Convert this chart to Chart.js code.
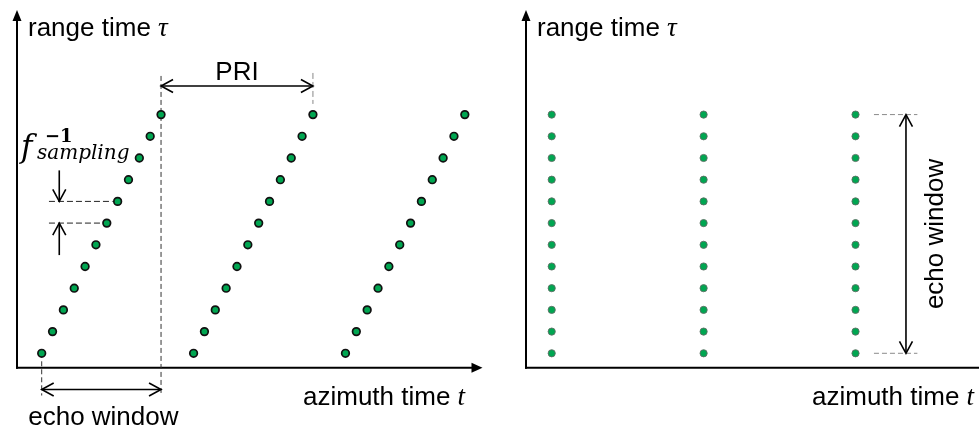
<!DOCTYPE html>
<html>
<head>
<meta charset="utf-8">
<script src="https://cdn.jsdelivr.net/npm/chart.js@4.4.1/dist/chart.umd.min.js"></script>
<style>
  html, body { margin: 0; padding: 0; background: #ffffff; }
  #wrap { position: relative; width: 979px; height: 427px; overflow: hidden; background: #ffffff; }
  canvas { position: absolute; top: 0; }
  #left { left: 0; }
  #right { left: 505px; }
</style>
</head>
<body>
<div id="wrap">
  <canvas id="left" width="505" height="427"></canvas>
  <canvas id="right" width="474" height="427"></canvas>
</div>
<script>
// Azimuth time of every recorded sample, in units of one range-sample step
const pulse1Azimuth = [0, 1, 2, 3, 4, 5, 6, 7, 8, 9, 10, 11];
const pulse2Azimuth = [14, 15, 16, 17, 18, 19, 20, 21, 22, 23, 24, 25];
const pulse3Azimuth = [28, 29, 30, 31, 32, 33, 34, 35, 36, 37, 38, 39];
// Range-sample index inside each echo window
const rangeSamples = [0, 1, 2, 3, 4, 5, 6, 7, 8, 9, 10, 11];
// After reordering, all samples of one pulse share a single azimuth time
const stackedAzimuth = [0, 14, 28];

// Text
const rangeAxisText = 'range time ';
const rangeAxisSymbol = '\u03C4';
const azimuthAxisText = 'azimuth time ';
const azimuthAxisSymbol = 't';
const priText = 'PRI';
const echoWindowText = 'echo window';
const samplingBase = 'f';
const samplingSub = 'sampling';
const samplingSup = '\u22121';

// Annotation placement (data units)
const PRI_LEVEL = 12.32;
const ECHO_LEVEL = -1.67;
const SAMPLE_MARK = 7;          // the two marked neighbouring samples: 7 and 6
const SAMPLE_ARROW_T = 1.62;
const SAMPLE_DASH_START_T = 0.67;
const RIGHT_ECHO_T = 32.65;
const RIGHT_DASH_T = [29.7, 33.7];
const RIGHT_LABEL_T = 36.05;

const SANS = '"Liberation Sans", Arial, sans-serif';
const SERIF_IT = 'italic 27px "Liberation Serif", "Times New Roman", serif';
const GREEN = '#00a651';

function seg(ctx, x1, y1, x2, y2, opt) {
  ctx.save();
  ctx.strokeStyle = opt.color || '#000';
  ctx.lineWidth = opt.width || 1;
  ctx.setLineDash(opt.dash || []);
  ctx.beginPath();
  ctx.moveTo(x1, y1);
  ctx.lineTo(x2, y2);
  ctx.stroke();
  ctx.restore();
}

// Arrow head with its tip at (x, y) pointing along (dx, dy)
function head(ctx, x, y, dx, dy, len, half, filled) {
  const bx = x - dx * len, by = y - dy * len;
  const px = -dy * half, py = dx * half;
  ctx.save();
  ctx.setLineDash([]);
  ctx.strokeStyle = '#000';
  ctx.fillStyle = '#000';
  ctx.lineWidth = 1.6;
  ctx.lineJoin = 'miter';
  ctx.beginPath();
  ctx.moveTo(bx + px, by + py);
  ctx.lineTo(x, y);
  ctx.lineTo(bx - px, by - py);
  if (filled) { ctx.closePath(); ctx.fill(); } else { ctx.stroke(); }
  ctx.restore();
}

function doubleArrowH(ctx, x1, x2, y) {
  seg(ctx, x1 + 1, y, x2 - 1, y, { width: 1.6 });
  head(ctx, x1, y, -1, 0, 12, 6.5, false);
  head(ctx, x2, y, 1, 0, 12, 6.5, false);
}

function doubleArrowV(ctx, x, y1, y2) {
  seg(ctx, x, y1 + 1, x, y2 - 1, { width: 1.6 });
  head(ctx, x, y1, 0, -1, 12, 6.5, false);
  head(ctx, x, y2, 0, 1, 12, 6.5, false);
}

function axisLabel(ctx, x, y, text, symbol) {
  ctx.save();
  ctx.fillStyle = '#000';
  ctx.textBaseline = 'alphabetic';
  ctx.textAlign = 'left';
  ctx.font = '26px ' + SANS;
  ctx.fillText(text, x, y);
  const w = ctx.measureText(text).width;
  ctx.font = SERIF_IT;
  ctx.fillText(symbol, x + w, y);
  ctx.restore();
}

// Arrowed axes along the plot-area edges plus axis titles
const axesPlugin = {
  id: 'arrowAxes',
  beforeDatasetsDraw(chart, args, opts) {
    const { ctx, chartArea: { left, right, top, bottom } } = chart;
    ctx.save();
    seg(ctx, left, bottom + 1, left, top + 9, { width: 2 });
    head(ctx, left, top, 0, -1, 11, 4.5, true);
    seg(ctx, left - 1, bottom, opts.arrowX ? right - 9 : right, bottom, { width: 2 });
    if (opts.arrowX) head(ctx, right, bottom, 1, 0, 11, 5, true);
    axisLabel(ctx, left + 11, 36, rangeAxisText, rangeAxisSymbol);
    axisLabel(ctx, left + 286, 405, azimuthAxisText, azimuthAxisSymbol);
    ctx.restore();
  }
};

// Echo window, PRI and sampling-interval markings of the raw acquisition
const leftMarks = {
  id: 'leftMarks',
  beforeDatasetsDraw(chart) {
    const ctx = chart.ctx;
    const X = v => chart.scales.x.getPixelForValue(v);
    const Y = v => chart.scales.y.getPixelForValue(v);
    const t0 = pulse1Azimuth[0];
    const t1 = pulse1Azimuth[pulse1Azimuth.length - 1];
    const t2 = pulse2Azimuth[pulse2Azimuth.length - 1];

    // guide lines
    seg(ctx, X(t1), Y(PRI_LEVEL) - 10, X(t1), Y(ECHO_LEVEL) + 4, { dash: [5, 3], color: '#333', width: 1 });
    seg(ctx, X(t2), Y(PRI_LEVEL) - 13, X(t2), Y(PRI_LEVEL) + 18, { dash: [6, 3], color: '#888', width: 1 });
    seg(ctx, X(t0), Y(rangeSamples[0]) + 8, X(t0), Y(ECHO_LEVEL) + 6, { dash: [5, 3], color: '#333', width: 1 });

    // PRI
    doubleArrowH(ctx, X(t1), X(t2), Y(PRI_LEVEL));
    ctx.save();
    ctx.fillStyle = '#000';
    ctx.font = '26px ' + SANS;
    ctx.textAlign = 'center';
    ctx.textBaseline = 'alphabetic';
    ctx.fillText(priText, (X(t1) + X(t2)) / 2, Y(PRI_LEVEL) - 6);
    ctx.restore();

    // echo window
    doubleArrowH(ctx, X(t0), X(t1), Y(ECHO_LEVEL));
    ctx.save();
    ctx.fillStyle = '#000';
    ctx.font = '26px ' + SANS;
    ctx.textAlign = 'center';
    ctx.fillText(echoWindowText, (X(t0) + X(t1)) / 2 + 2, Y(ECHO_LEVEL) + 35);
    ctx.restore();

    // sampling interval
    const hi = SAMPLE_MARK, lo = SAMPLE_MARK - 1;
    const yHi = Y(rangeSamples[hi]), yLo = Y(rangeSamples[lo]);
    seg(ctx, X(SAMPLE_DASH_START_T), yHi, X(pulse1Azimuth[hi]) - 5, yHi, { dash: [6, 3], color: '#222', width: 1 });
    seg(ctx, X(SAMPLE_DASH_START_T), yLo, X(pulse1Azimuth[lo]) - 5, yLo, { dash: [6, 3], color: '#222', width: 1 });
    const ax = X(SAMPLE_ARROW_T);
    seg(ctx, ax, yHi - 31, ax, yHi - 1, { width: 1.6 });
    head(ctx, ax, yHi, 0, 1, 12, 6.5, false);
    seg(ctx, ax, yLo + 32, ax, yLo + 1, { width: 1.6 });
    head(ctx, ax, yLo, 0, -1, 12, 6.5, false);

    ctx.save();
    ctx.fillStyle = '#000';
    ctx.textAlign = 'left';
    ctx.font = 'italic 31px "DejaVu Serif", serif';
    ctx.fillText(samplingBase, 21, 157);
    ctx.font = 'italic 20px "DejaVu Serif", serif';
    ctx.fillText(samplingSub, 37, 159);
    ctx.font = 'bold 18px "DejaVu Serif", serif';
    ctx.fillText(samplingSup, 45, 142);
    ctx.restore();
  }
};

// Echo window marking of the reordered samples
const rightMarks = {
  id: 'rightMarks',
  beforeDatasetsDraw(chart) {
    const ctx = chart.ctx;
    const X = v => chart.scales.x.getPixelForValue(v);
    const Y = v => chart.scales.y.getPixelForValue(v);
    const yTop = Y(rangeSamples[rangeSamples.length - 1]);
    const yBot = Y(rangeSamples[0]);
    seg(ctx, X(RIGHT_DASH_T[0]), yTop, X(RIGHT_DASH_T[1]), yTop, { dash: [5, 3], color: '#8a8a8a', width: 1 });
    seg(ctx, X(RIGHT_DASH_T[0]), yBot, X(RIGHT_DASH_T[1]), yBot, { dash: [5, 3], color: '#8a8a8a', width: 1 });
    doubleArrowV(ctx, X(RIGHT_ECHO_T), yTop, yBot);
    ctx.save();
    ctx.translate(X(RIGHT_LABEL_T), (yTop + yBot) / 2);
    ctx.rotate(-Math.PI / 2);
    ctx.fillStyle = '#000';
    ctx.font = '26px ' + SANS;
    ctx.textAlign = 'center';
    ctx.textBaseline = 'alphabetic';
    ctx.fillText(echoWindowText, 0, 0);
    ctx.restore();
  }
};

function points(ts, taus) {
  return ts.map((t, i) => ({ x: t, y: taus[i] }));
}

function baseOptions(xmin, xmax, padding, arrowX) {
  return {
    responsive: false,
    animation: false,
    events: [],
    layout: { padding: padding, autoPadding: false },
    plugins: { legend: { display: false }, tooltip: { enabled: false }, arrowAxes: { arrowX: arrowX } },
    scales: {
      x: { type: 'linear', min: xmin, max: xmax, display: false },
      y: { type: 'linear', min: -0.664, max: 15.82, display: false }
    }
  };
}

function leftDataset(ts) {
  return {
    data: points(ts, rangeSamples),
    showLine: false,
    pointRadius: 3.8,
    pointBorderWidth: 1.7,
    pointBackgroundColor: GREEN,
    pointBorderColor: '#111111',
    clip: false
  };
}

function rightDataset(t) {
  return {
    data: points(rangeSamples.map(() => t), rangeSamples),
    showLine: false,
    pointRadius: 3.6,
    pointBorderWidth: 0.9,
    pointBackgroundColor: GREEN,
    pointBorderColor: '#5e6e64',
    clip: false
  };
}

new Chart(document.getElementById('left'), {
  type: 'scatter',
  data: { datasets: [pulse1Azimuth, pulse2Azimuth, pulse3Azimuth].map(leftDataset) },
  options: baseOptions(-2.276, 40.63, { left: 17, right: 22.5, top: 10, bottom: 59.3 }, true),
  plugins: [axesPlugin, leftMarks]
});

new Chart(document.getElementById('right'), {
  type: 'scatter',
  data: { datasets: stackedAzimuth.map(rightDataset) },
  options: baseOptions(-2.369, 39.38, { left: 21, right: 0, top: 10, bottom: 59.3 }, false),
  plugins: [axesPlugin, rightMarks]
});
</script>
</body>
</html>
